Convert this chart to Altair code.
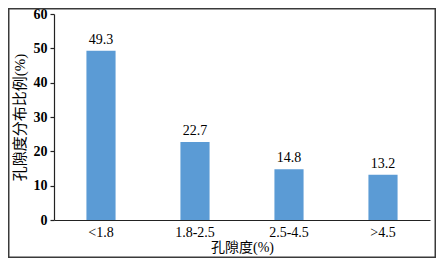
import altair as alt
import pandas as pd

categories = ["<1.8", "1.8-2.5", "2.5-4.5", ">4.5"]
values = [49.3, 22.7, 14.8, 13.2]
y_ticks = [0, 10, 20, 30, 40, 50, 60]

df = pd.DataFrame({"cat": categories, "val": values})

W, H = 376, 206
PL, PT, PR, PB = 46, 6, 6, 38
serif = "Liberation Serif"
cjk = "Liberation Serif, Noto Sans CJK SC"

base = alt.Chart(df).encode(
    x=alt.X("cat:N", sort=categories,
            scale=alt.Scale(paddingInner=0.69, paddingOuter=0.345),
            axis=alt.Axis(title="孔隙度(%)", labelAngle=0, ticks=False,
                          labelPadding=5, labelFont=serif, labelFontSize=14,
                          labelColor="#000000", titleFont=cjk, titleFontSize=14,
                          titleFontWeight="normal", titleColor="#000000",
                          titlePadding=1, domainColor="#222222", domainWidth=1.2)),
    y=alt.Y("val:Q", scale=alt.Scale(domain=[0, 60], nice=False),
            axis=alt.Axis(title="孔隙度分布比例(%)", values=y_ticks, grid=False,
                          tickSize=4, tickColor="#222222", tickWidth=1.2,
                          domainColor="#222222", domainWidth=1.2,
                          labelPadding=3, labelFont=serif, labelFontSize=14,
                          labelFontWeight="bold", labelColor="#000000",
                          titleFont=cjk, titleFontSize=15, titleFontWeight="normal",
                          titleColor="#000000", titlePadding=6)),
)

bars = base.mark_bar(color="#5B9BD5")
labels = base.mark_text(baseline="bottom", dy=-4, font=serif, fontSize=14,
                        color="#000000").encode(text=alt.Text("val:Q", format=".1f"))

frame = alt.Chart(pd.DataFrame({"a": [0]})).mark_rect(
    fill=None, stroke="#3a3a3a", strokeWidth=1.5
).encode(
    x=alt.value(-PL + 0.75), x2=alt.value(W + PR - 0.75),
    y=alt.value(-PT + 0.75), y2=alt.value(H + PB - 0.75),
)

chart = alt.layer(bars, labels, frame).properties(
    width=W, height=H,
    autosize=alt.AutoSizeParams(type="none"),
    padding={"left": PL, "top": PT, "right": PR, "bottom": PB},
    background="#ffffff",
).configure_view(stroke=None)

chart.save("out.html", embed_options={"renderer": "svg", "actions": False})
